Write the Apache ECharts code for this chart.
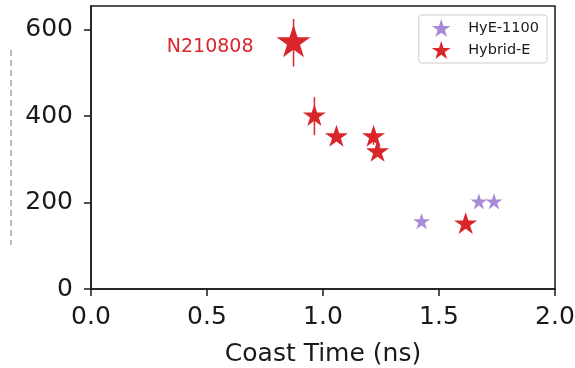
<!DOCTYPE html>
<html>
<head>
<meta charset="utf-8">
<script src="https://cdn.jsdelivr.net/npm/echarts@6/dist/echarts.min.js"></script>
<style>html,body{margin:0;padding:0;background:#fff;}#c{width:575px;height:368px;}</style>
</head>
<body>
<div id="c"></div>
<script>
// ---- data ----
const hybridX = [0.873, 0.963, 1.058, 1.218, 1.235, 1.615];
const hybridY = [570, 400, 352, 352, 317, 150];
const hybridErr = [55, 44, 0, 18, 0, 0];
const hybridLabels = ['N210808', '', '', '', '', ''];
const hyeX = [1.425, 1.672, 1.737];
const hyeY = [155, 201, 201];
const xTicks = [0.0, 0.5, 1.0, 1.5, 2.0];
const yTicks = [0, 200, 400, 600];
const xName = 'Coast Time (ns)';
const seriesNames = ['HyE-1100', 'Hybrid-E'];

const STAR = 'path://M100,0 L122.45,69.1 L195.11,69.1 L136.33,111.8 L158.78,180.9 L100,138.2 L41.22,180.9 L63.67,111.8 L4.89,69.1 L77.55,69.1 Z';
const RED = '#d8262b';
const PURPLE = '#a78bd8';
const FONT = 'DejaVu Sans';

const hybridData = hybridX.map((x, i) => {
  const d = { value: [x, hybridY[i]], symbolSize: i === 0 ? 34 : 23 };
  if (hybridLabels[i]) {
    d.label = { show: true, formatter: hybridLabels[i], position: 'left', distance: 23, offset: [0, 6],
      color: RED, fontSize: 19, fontFamily: FONT };
  }
  return d;
});
const errData = hybridX.map((x, i) => [x, hybridY[i] - hybridErr[i], hybridY[i] + hybridErr[i]]).filter((d, i) => hybridErr[i] > 0);
const hyeData = hyeX.map((x, i) => [x, hyeY[i]]);

const chart = echarts.init(document.getElementById('c'), null, { renderer: 'canvas' });
chart.setOption({
  animation: false,
  backgroundColor: '#fff',
  grid: { left: 91, right: 20, top: 6, bottom: 79, containLabel: false, outerBoundsMode: 'none',
    show: true, borderColor: '#1a1a1a', borderWidth: 1.5, backgroundColor: 'transparent' },
  xAxis: {
    type: 'value', min: xTicks[0], max: xTicks[xTicks.length - 1], interval: 0.5,
    name: xName, nameLocation: 'middle', nameGap: 53,
    nameTextStyle: { fontSize: 25, fontFamily: FONT, color: '#1a1a1a' },
    axisLine: { show: true, lineStyle: { color: '#1a1a1a', width: 1.5 } },
    axisTick: { show: true, length: 7, lineStyle: { color: '#1a1a1a', width: 1.5 } },
    axisLabel: { fontSize: 25, fontFamily: FONT, color: '#1a1a1a', margin: 16, formatter: v => v.toFixed(1) },
    splitLine: { show: false }
  },
  yAxis: {
    type: 'value', min: 0, max: 655, interval: 200,
    axisLine: { show: true, lineStyle: { color: '#1a1a1a', width: 1.5 } },
    axisTick: { show: true, length: 7, lineStyle: { color: '#1a1a1a', width: 1.5 } },
    axisLabel: { fontSize: 25, fontFamily: FONT, color: '#1a1a1a', margin: 18, showMaxLabel: false,
      formatter: v => (yTicks.indexOf(v) >= 0 ? String(v) : '') },
    splitLine: { show: false }
  },
  legend: {
    orient: 'vertical', right: 28, top: 15,
    data: [{ name: seriesNames[0], icon: STAR }, { name: seriesNames[1], icon: STAR }],
    itemWidth: 36, itemHeight: 18, itemGap: 4,
    padding: [4, 8, 4, 13],
    borderColor: '#cccccc', borderWidth: 1, borderRadius: 3, backgroundColor: '#fff',
    textStyle: { fontSize: 14.5, fontFamily: FONT, color: '#1a1a1a', padding: [0, 0, 0, 4] }
  },
  graphic: [{
    type: 'line', shape: { x1: 11, y1: 50, x2: 11, y2: 245 },
    style: { stroke: '#444', lineWidth: 1, lineDash: [6, 4], opacity: 0.75 }
  }],
  series: [
    {
      name: seriesNames[0], type: 'scatter', data: hyeData, symbol: STAR, symbolSize: 17,
      symbolKeepAspect: true, symbolOffset: [0, '-5%'], itemStyle: { color: PURPLE, opacity: 1 }, z: 3
    },
    {
      name: 'err', type: 'custom', data: errData, z: 2,
      renderItem: function (params, api) {
        const p1 = api.coord([api.value(0), api.value(1)]);
        const p2 = api.coord([api.value(0), api.value(2)]);
        return { type: 'line', shape: { x1: p1[0], y1: p1[1], x2: p2[0], y2: p2[1] },
          style: { stroke: RED, lineWidth: 1.5 } };
      }
    },
    {
      name: seriesNames[1], type: 'scatter', data: hybridData, symbol: STAR,
      symbolKeepAspect: true, symbolOffset: [0, '-5%'], itemStyle: { color: RED, opacity: 1 }, z: 4
    }
  ]
});
</script>
</body>
</html>
